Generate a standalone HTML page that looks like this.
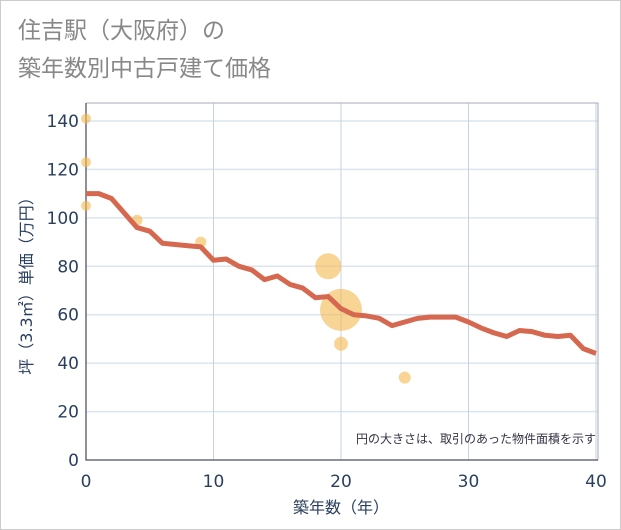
<!DOCTYPE html>
<html><head><meta charset="utf-8"><style>
body{margin:0;background:#fff;}
svg{display:block;font-family:"Liberation Sans","Noto Sans CJK JP",sans-serif;}
</style></head><body>
<svg id="c" width="621" height="530">
<rect x="0.5" y="0.5" width="620" height="529" fill="#fff" stroke="#ccc"/>
<text x="18" y="38" font-size="23" fill="#888">住吉駅（大阪府）の</text>
<text x="18" y="76" font-size="23" fill="#888">築年数別中古戸建て価格</text>
<g id="plot"></g>
<text x="596" y="443" font-size="12" fill="#334" text-anchor="end">円の大きさは、取引のあった物件面積を示す</text>
<text x="341" y="513" font-size="16" fill="#2a3f5f" text-anchor="middle" style="font-family:'DejaVu Sans','Noto Sans CJK JP',sans-serif">築年数（年）</text>
<text transform="translate(32,282) rotate(-90)" font-size="16" fill="#2a3f5f" text-anchor="middle" style="font-family:'DejaVu Sans','Noto Sans CJK JP',sans-serif">坪（3.3㎡）単価（万円）</text>
</svg>
<script>
const years=[0,1,2,3,4,5,6,7,8,9,10,11,12,13,14,15,16,17,18,19,20,21,22,23,24,25,26,27,28,29,30,31,32,33,34,35,36,37,38,39,40];
const prices=[110,110,108,102,96,94.5,89.5,89,88.5,88,82.5,83,80,78.5,74.5,76,72.5,71,67,67.5,62.5,60,59.5,58.5,55.5,57,58.5,59,59,59,57,54.5,52.5,51,53.5,53,51.5,51,51.5,46,44];
const bubbleX=[0,0,0,4,9,19,20,20,25];
const bubbleY=[141,123,105,99,90,80,62,48,34];
const bubbleR=[5,5,5,5.5,5.5,13,21,7,6];
const xTicks=[0,10,20,30,40];
const yTicks=[0,20,40,60,80,100,120,140];
const L=86,R=596,T=103,B=460;
const xs=v=>L+(v/40)*(R-L);
const ys=v=>B-(v/140)*(B-121);
const NS="http://www.w3.org/2000/svg";
const g=document.getElementById('plot');
function mk(t,a){const e=document.createElementNS(NS,t);for(const k in a)e.setAttribute(k,a[k]);g.appendChild(e);return e;}
yTicks.forEach(v=>{
 const l=mk('line',{x1:L,x2:598,y1:ys(v),y2:ys(v),stroke:'#dbe5ef','stroke-width':1.5});
 
 
 const t=mk('text',{x:L-7,y:ys(v)+6,'font-size':17,fill:'#2a3f5f','text-anchor':'end','font-family':'DejaVu Sans, sans-serif'});
 t.textContent=v;
 
 
});
xTicks.forEach(v=>{
 const l=mk('line',{x1:xs(v),x2:xs(v),y1:T,y2:B,stroke:'#c5d3e2','stroke-width':1});
 
 
 const t=mk('text',{x:xs(v),y:487,'font-size':17,fill:'#2a3f5f','text-anchor':'middle','font-family':'DejaVu Sans, sans-serif'});
 t.textContent=v;
 
 
});
const frame=mk('path',{d:`M${L},${T}H598V${B}`,fill:'none',stroke:'#aab','stroke-width':1});


const ax=mk('path',{d:`M${L},${T}V${B}H598`,fill:'none',stroke:'#556','stroke-width':1.3});


bubbleX.forEach((x,i)=>{
 const c=mk('circle',{cx:xs(x),cy:ys(bubbleY[i]),r:bubbleR[i],fill:'#f5b94f','fill-opacity':0.6});
 
 
});
const p=mk('polyline',{points:years.map((y,i)=>xs(y)+','+ys(prices[i])).join(' '),fill:'none',stroke:'#d5684f','stroke-width':5,'stroke-linejoin':'round'});


</script>
</body></html>
